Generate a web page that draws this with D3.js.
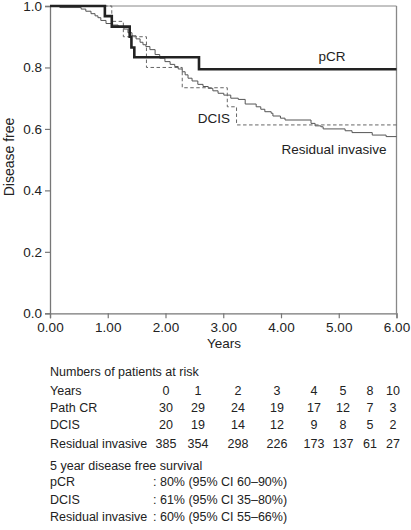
<!DOCTYPE html>
<html><head><meta charset="utf-8">
<script src="https://cdn.jsdelivr.net/npm/d3@7"></script>
<style>
body{margin:0;background:#fff;}
svg text{font-family:"Liberation Sans",Arial,Helvetica,sans-serif;fill:#222;}
</style></head>
<body><svg id="c" width="411" height="530"></svg>
<script>
// Kaplan-Meier step data: [time in years, survival after the event]
const pcrSteps = [[0.95,0.967],[1.07,0.933],[1.38,0.90],[1.41,0.865],[1.46,0.833],[2.58,0.794]];
const dcisSteps = [[1.07,0.95],[1.27,0.90],[1.67,0.80],[2.29,0.734],[3.07,0.672],[3.23,0.613]];
const residualSteps = [
 [0.17,0.995],[0.54,0.99],[0.62,0.983],[0.71,0.975],[0.78,0.968],[0.83,0.962],[0.88,0.953],
 [0.97,0.943],[1.07,0.938],[1.18,0.933],[1.28,0.925],[1.35,0.913],[1.42,0.903],[1.49,0.893],
 [1.56,0.882],[1.61,0.874],[1.66,0.868],[1.73,0.858],[1.82,0.842],[1.90,0.83],[1.99,0.819],
 [2.08,0.81],[2.16,0.803],[2.22,0.795],[2.29,0.786],[2.34,0.776],[2.39,0.765],[2.46,0.756],
 [2.56,0.745],[2.65,0.738],[2.74,0.732],[2.82,0.724],[2.91,0.716],[3.01,0.71],[3.13,0.70],
 [3.26,0.696],[3.38,0.681],[3.57,0.672],[3.65,0.664],[3.72,0.656],[3.83,0.651],[3.86,0.642],
 [3.99,0.635],[4.07,0.629],[4.52,0.618],[4.59,0.61],[4.69,0.607],[4.73,0.60],[5.11,0.594],
 [5.23,0.588],[5.58,0.58],[5.82,0.575]];
const xTicks = [0,1,2,3,4,5,6];
const yTicks = [0,0.2,0.4,0.6,0.8,1.0];

const riskTitle = "Numbers of patients at risk";
const riskLabels = ["Years","Path CR","DCIS","Residual invasive"];
const riskYears = ["0","1","2","3","4","5","8","10"];
const riskPathCR = ["30","29","24","19","17","12","7","3"];
const riskDCIS = ["20","19","14","12","9","8","5","2"];
const riskResidual = ["385","354","298","226","173","137","61","27"];
const dfsTitle = "5 year disease free survival";
const dfsLabels = ["pCR","DCIS","Residual invasive"];
const dfsValues = [": 80% (95% CI 60\u201390%)", ": 61% (95% CI 35\u201380%)", ": 60% (95% CI 55\u201366%)"];

const svg = d3.select("#c");
const L = 50, R = 396.5, T = 6, B = 313.3;
const x = d3.scaleLinear().domain([0,6]).range([L,R]);
const y = d3.scaleLinear().domain([0,1]).range([B,T]);

// frame top/right
svg.append("line").attr("x1",L).attr("x2",R).attr("y1",T).attr("y2",T).attr("stroke","#888").attr("stroke-width",1);
svg.append("line").attr("x1",R).attr("x2",R).attr("y1",T).attr("y2",B).attr("stroke","#888").attr("stroke-width",1.3);

const xa = svg.append("g").attr("transform",`translate(0,${B})`)
  .call(d3.axisBottom(x).tickValues(xTicks).tickFormat(d3.format(".2f")).tickSizeOuter(0).tickSize(5).tickPadding(4));
const ya = svg.append("g").attr("transform",`translate(${L},0)`)
  .call(d3.axisLeft(y).tickValues(yTicks).tickFormat(d3.format(".1f")).tickSizeOuter(0).tickSize(5).tickPadding(3));
[xa,ya].forEach(g=>{
  g.select(".domain").attr("stroke","#777").attr("stroke-width",1.3);
  g.selectAll(".tick line").attr("stroke","#777").attr("stroke-width",1.2);
  g.selectAll(".tick text").style("font-size","13.5px").attr("fill","#222").style("font-family","Liberation Sans, Arial, sans-serif");
});

svg.append("text").attr("x",224).attr("y",348).attr("text-anchor","middle").style("font-size","13.5px").text("Years");
svg.append("text").attr("transform","translate(14,157) rotate(-90)").attr("text-anchor","middle").style("font-size","14px").text("Disease free");

function km(steps){ const pts=[[0,1],...steps]; pts.push([6,steps[steps.length-1][1]]); return pts; }
const line = d3.line().x(d=>x(d[0])).y(d=>y(d[1])).curve(d3.curveStepAfter);

svg.append("path").datum(km(residualSteps)).attr("d",line).attr("fill","none").attr("stroke","#555").attr("stroke-width",1);
svg.append("path").datum(km(dcisSteps)).attr("d",line).attr("fill","none").attr("stroke","#666").attr("stroke-width",1).attr("stroke-dasharray","3.5,2.5");
svg.append("path").datum(km(pcrSteps)).attr("d",line).attr("fill","none").attr("stroke","#222").attr("stroke-width",2.6);

svg.append("text").attr("x",332).attr("y",61).attr("text-anchor","middle").style("font-size","13.5px").text("pCR");
svg.append("text").attr("x",230).attr("y",123).attr("text-anchor","end").style("font-size","13.5px").text("DCIS");
svg.append("text").attr("x",334).attr("y",154).attr("text-anchor","middle").style("font-size","13.5px").text("Residual invasive");

// table
const fs = "12.5px";
svg.append("text").attr("x",50).attr("y",376).style("font-size",fs).text(riskTitle);
const rowY = [394.5,412,429,448];
const colX = [166,198,238,277,314,343,370,393];
const rows = [riskYears, riskPathCR, riskDCIS, riskResidual];
riskLabels.forEach((lab,i)=>{
  svg.append("text").attr("x",50).attr("y",rowY[i]).style("font-size",fs).text(lab);
  rows[i].forEach((v,j)=>{
    svg.append("text").attr("x",colX[j]).attr("y",rowY[i]).attr("text-anchor","middle").style("font-size",fs).text(v);
  });
});
svg.append("text").attr("x",50).attr("y",469.5).style("font-size",fs).text(dfsTitle);
const dY = [486,504,521];
dfsLabels.forEach((lab,i)=>{
  svg.append("text").attr("x",50).attr("y",dY[i]).style("font-size",fs).text(lab);
  svg.append("text").attr("x",153).attr("y",dY[i]).style("font-size",fs).text(dfsValues[i]);
});
</script></body></html>
